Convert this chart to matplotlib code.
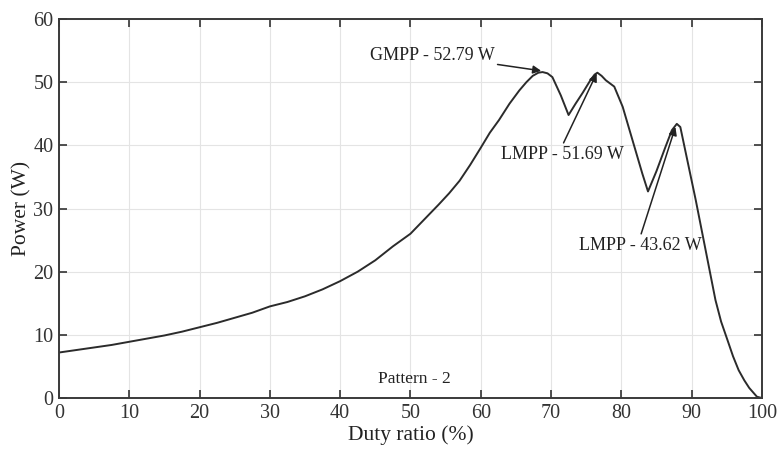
import matplotlib.pyplot as plt

# values
duty = [0, 2.5, 5, 7.5, 10, 12.5, 15, 17.5, 20, 22.5, 25, 27.5, 30, 32.5, 35,
        37.5, 40, 42.5, 45, 47.5, 50, 52, 54, 55.5, 57, 58.5, 60, 61.3, 62.6,
        64.1, 65.5, 66.5, 67.4, 68.2, 68.8, 69.5, 70.2, 71.4, 72.5, 73.5, 74.5,
        75.6, 76.2, 76.6, 77.2, 77.8, 79.0, 80.2, 81.6, 83.0, 83.8, 85.0, 86.2,
        87.2, 87.9, 88.4, 89.1, 90.6, 92.0, 93.4, 94.2, 95.1, 95.9, 96.7, 97.5,
        98.2, 99.3, 100]
power = [7.2, 7.6, 8.0, 8.4, 8.9, 9.4, 9.9, 10.5, 11.2, 11.9, 12.7, 13.5, 14.5,
         15.2, 16.1, 17.2, 18.5, 20.0, 21.8, 24.0, 26.0, 28.3, 30.6, 32.4,
         34.4, 36.9, 39.6, 42.0, 44.0, 46.6, 48.7, 50.0, 51.0, 51.5, 51.6,
         51.4, 50.8, 47.9, 44.8, 46.6, 48.3, 50.3, 51.2, 51.5, 51.0, 50.3,
         49.3, 46.1, 40.8, 35.5, 32.7, 35.9, 39.5, 42.4, 43.4, 42.9, 39.2,
         31.3, 23.4, 15.5, 12.1, 9.2, 6.6, 4.4, 2.8, 1.6, 0.2, 0]

xticks = [0, 10, 20, 30, 40, 50, 60, 70, 80, 90, 100]
yticks = [0, 10, 20, 30, 40, 50, 60]

plt.rcParams['font.family'] = ['Liberation Serif', 'DejaVu Serif']

fig = plt.figure(figsize=(7.79, 4.58), dpi=100)
ax = fig.add_axes([0.0757, 0.131, 0.9023, 0.8275])

ax.plot(duty, power, color='#2b2b2b', linewidth=1.4, solid_joinstyle='round')

ax.set_xlim(0, 100)
ax.set_ylim(0, 60)
ax.set_xticks(xticks)
ax.set_yticks(yticks)
ax.tick_params(direction='in', length=6, width=1.2, top=True, right=True,
               labelsize=14.5, colors='#333333', pad=4)
ax.grid(True, color='#e4e4e4', linewidth=0.8)
for s in ax.spines.values():
    s.set_linewidth(1.4)
    s.set_color('#3a3a3a')

ax.set_xlabel('Duty ratio (%)', fontsize=15.5, color='#222222', labelpad=2)
ax.set_ylabel('Power (W)', fontsize=15.5, color='#222222', labelpad=1)

arrow = dict(arrowstyle='-|>', color='#222222', lw=1.1, shrinkA=0, shrinkB=0,
             mutation_scale=12)
ax.annotate('GMPP - 52.79 W', xy=(68.6, 51.8), xytext=(62.0, 54.3),
            fontsize=13, ha='right', va='center', color='#222222',
            arrowprops=arrow)
ax.annotate('LMPP - 51.69 W', xy=(76.5, 51.4), xytext=(71.6, 38.6),
            fontsize=13, ha='center', va='center', color='#222222',
            arrowprops=dict(arrow, relpos=(0.5, 1.0)))
ax.annotate('LMPP - 43.62 W', xy=(87.7, 42.9), xytext=(82.7, 24.2),
            fontsize=13, ha='center', va='center', color='#222222',
            arrowprops=dict(arrow, relpos=(0.5, 1.0)))
ax.text(50.6, 3.0, 'Pattern - 2', fontsize=12.5, ha='center', va='center',
        color='#222222')

fig.savefig('out.png', dpi=100)
